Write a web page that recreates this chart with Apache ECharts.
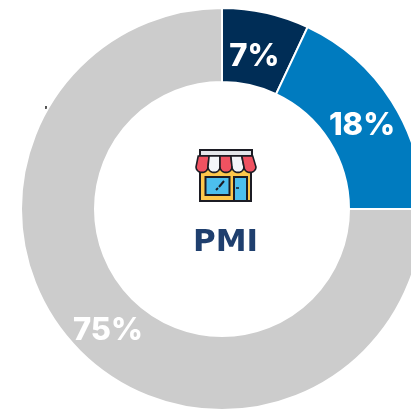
<!DOCTYPE html>
<html>
<head>
<meta charset="utf-8">
<title>PMI</title>
<style>
  html, body { margin: 0; padding: 0; background: #fff; }
  #chart { width: 411px; height: 409px; overflow: hidden; }
</style>
<script src="https://cdn.jsdelivr.net/npm/echarts@6/dist/echarts.min.js"></script>
</head>
<body>
<div id="chart"></div>
<script>
  const categories = ['A', 'B', 'C'];
  const values = [7, 18, 75];
  const colors = ['#002d56', '#007bbf', '#cccccc'];
  const labelShift = [[-4, 11], [-1, 6], [4, 4]];
  const centerTitle = 'PMI';

  // 店铺图标，用 graphic 画
  function shopIcon() {
    const ink = '#1c1c24';
    const parts = [];
    const stripes = ['#ef5261', '#f3f5f9', '#ef5261', '#f3f5f9', '#ef5261'];
    // 墙
    parts.push({ type: 'rect', shape: { x: 200, y: 168, width: 51, height: 33 }, style: { fill: '#fdc74b', stroke: ink, lineWidth: 2 } });
    // 窗
    parts.push({ type: 'rect', shape: { x: 205.5, y: 177, width: 24, height: 18 }, style: { fill: '#4cbfee', stroke: ink, lineWidth: 2 } });
    parts.push({ type: 'line', shape: { x1: 219, y1: 187, x2: 224, y2: 181 }, style: { stroke: ink, lineWidth: 2 } });
    parts.push({ type: 'line', shape: { x1: 216, y1: 190, x2: 218, y2: 188 }, style: { stroke: ink, lineWidth: 2 } });
    // 门
    parts.push({ type: 'rect', shape: { x: 234, y: 177, width: 13, height: 24 }, style: { fill: '#4cbfee', stroke: ink, lineWidth: 2 } });
    parts.push({ type: 'line', shape: { x1: 236, y1: 188, x2: 239, y2: 188 }, style: { stroke: ink, lineWidth: 1.5 } });
    // 顶条
    parts.push({ type: 'rect', shape: { x: 200, y: 150, width: 52, height: 6 }, style: { fill: '#e4e6ea', stroke: ink, lineWidth: 2 } });
    // 遮阳篷
    stripes.forEach(function(c, i) {
      const w = 12;
      const x0 = 196 + i * w;
      const lean = (2 - i) * 1.1;
      const pts = [[x0 + lean, 156], [x0 + w + lean - 1.1, 156]];
      for (let a = 0; a <= 180; a += 20) {
        const rad = a * Math.PI / 180;
        pts.push([x0 + w / 2 + Math.cos(rad) * w / 2, 167 + Math.sin(rad) * 5.5]);
      }
      parts.push({
        type: 'polygon',
        shape: { points: pts },
        style: { fill: c, stroke: ink, lineWidth: 1.6 }
      });
    });
    return parts;
  }

  const chart = echarts.init(document.getElementById('chart'), null, { renderer: 'canvas' });

  chart.setOption({
    animation: false,
    backgroundColor: '#ffffff',
    series: [{
      type: 'pie',
      center: [222, 209],
      radius: [127, 201],
      startAngle: 90,
      clockwise: true,
      silent: true,
      itemStyle: { borderColor: '#ffffff', borderWidth: 2 },
      label: {
        position: 'inside',
        formatter: '{c}%',
        color: '#ffffff',
        fontFamily: 'Inter',
        fontWeight: 800,
        fontSize: 31
      },
      labelLayout: function(params) {
        return { dx: labelShift[params.dataIndex][0], dy: labelShift[params.dataIndex][1] };
      },
      labelLine: { show: false },
      data: categories.map(function(name, i) {
        return {
          name: name,
          value: values[i],
          itemStyle: { color: colors[i] }
        };
      })
    }],
    graphic: [{
      type: 'text',
      x: 193,
      y: 227,
      style: {
        text: centerTitle,
        fill: '#1f3f6e',
        font: '700 31px "DejaVu Sans"'
      }
    }, {
      type: 'group',
      silent: true,
      children: shopIcon()
    }, {
      // 图上左侧的小黑点
      type: 'rect',
      shape: { x: 45, y: 106, width: 2, height: 3 },
      style: { fill: '#555555' }
    }]
  });
</script>
</body>
</html>
